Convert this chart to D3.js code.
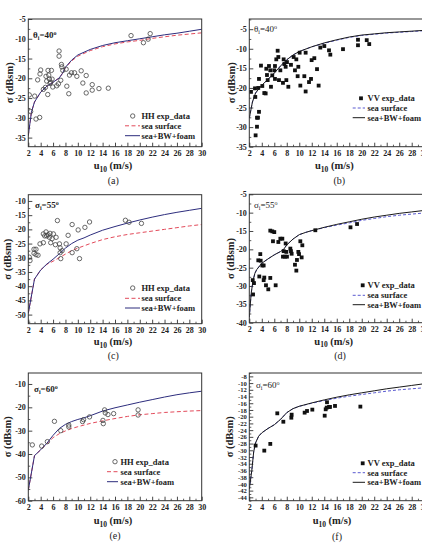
<!DOCTYPE html>
<html><head><meta charset="utf-8">
<script src="https://cdn.jsdelivr.net/npm/d3@7"></script>
<style>
body{margin:0;background:#fff;}
svg{display:block;}
text{font-family:"Liberation Serif","Times New Roman",serif;}
</style>
</head><body>
<svg id="chart" width="422" height="545"></svg>
<script>
// ---------- data ----------
const windTicks = [2,4,6,8,10,12,14,16,18,20,22,24,26,28,30];
const yTicksA = [-35,-30,-25,-20,-15,-10,-5];
const yTicksB = [-35,-30,-25,-20,-15,-10,-5];
const yTicksC = [-50,-45,-40,-35,-30,-25,-20,-15,-10];
const yTicksD = [-40,-35,-30,-25,-20,-15,-10,-5];
const yTicksE = [-60,-50,-40,-30,-20,-10];
const yTicksF = [-44,-42,-40,-38,-36,-34,-32,-30,-28,-26,-24,-22,-20,-18,-16,-14,-12,-10,-8];

const hhData40 = [[2.16,-24.2],[2.38,-28.4],[3.03,-24.5],[3.24,-30.3],[3.84,-29.9],[3.51,-20.4],[3.89,-18.9],[4.0,-17.9],[4.43,-22.8],[4.76,-22.3],[4.86,-19.5],[4.97,-20.7],[5.14,-24.1],[5.19,-18.0],[5.3,-19.2],[5.41,-20.2],[5.51,-21.3],[5.73,-18.0],[5.84,-20.2],[5.95,-22.2],[5.62,-21.0],[6.59,-21.9],[6.86,-21.4],[6.97,-13.1],[6.97,-14.4],[7.35,-16.5],[7.41,-17.1],[7.24,-20.5],[7.57,-18.0],[8.11,-17.7],[8.22,-22.0],[8.54,-23.9],[8.65,-19.2],[8.97,-18.6],[9.46,-18.6],[9.84,-19.5],[10.54,-18.1],[10.81,-21.2],[11.35,-19.3],[11.35,-23.7],[12.32,-21.6],[12.32,-23.0],[13.41,-22.6],[14.92,-22.5],[18.59,-9.2],[20.59,-11.0],[21.35,-10.1],[21.68,-8.7]];
const foam40HH = [[2,-34.5],[2.5,-28.6],[3,-26.0],[4,-23.5],[5,-22.0],[6,-21.0],[7,-19.9],[7.5,-18.8],[8,-17.2],[9,-15.4],[10,-14.1],[12,-12.7],[14,-11.7],[16,-11.0],[18,-10.5],[20,-10.0],[22,-9.5],[24,-9.0],[26,-8.6],[28,-8.1],[30,-7.6]];
const sea40HH = [[2,-34.5],[2.5,-28.6],[3,-26.0],[4,-23.5],[5,-22.0],[6,-21.0],[7,-19.9],[7.5,-18.8],[8,-17.3],[9,-15.6],[10,-14.4],[12,-13.0],[14,-12.0],[16,-11.3],[18,-10.8],[20,-10.4],[22,-9.9],[24,-9.5],[26,-9.1],[28,-8.8],[30,-8.5]];

const vvData40 = [[2.27,-21.0],[2.91,-20.1],[3.44,-20.0],[2.96,-22.3],[3.23,-27.6],[3.39,-27.6],[3.55,-26.1],[3.23,-29.9],[3.01,-32.1],[3.55,-17.7],[3.87,-14.3],[4.08,-19.5],[4.40,-21.3],[4.62,-21.4],[4.72,-15.1],[4.94,-18.0],[4.83,-16.7],[5.15,-14.4],[5.36,-15.5],[5.47,-19.7],[5.68,-16.8],[6.0,-15.5],[6.11,-14.4],[6.11,-17.7],[6.32,-12.7],[6.65,-12.1],[6.54,-10.5],[6.75,-18.0],[6.97,-15.5],[7.39,-18.7],[7.5,-12.7],[7.61,-13.9],[7.82,-14.6],[7.93,-18.0],[8.03,-13.4],[8.25,-19.7],[8.67,-14.1],[9.1,-12.1],[9.31,-15.5],[9.53,-12.7],[9.74,-17.0],[9.85,-14.6],[10.06,-11.0],[10.17,-19.4],[10.81,-17.0],[11.02,-20.9],[11.02,-11.0],[11.56,-18.5],[11.88,-17.7],[11.98,-12.9],[12.41,-12.4],[12.84,-15.2],[13.1,-19.4],[13.37,-9.7],[14.01,-9.3],[14.76,-10.4],[14.97,-11.5],[17.0,-10.1],[19.4,-7.7],[19.4,-9.1],[20.8,-7.8],[21.2,-8.8]];
const foam40VV = [[2,-27.7],[2.5,-23.6],[3,-21.3],[4,-19.3],[5,-17.8],[6,-16.2],[7,-14.4],[8,-12.8],[9,-11.6],[10,-10.7],[12,-9.5],[14,-8.5],[16,-7.7],[18,-7.0],[20,-6.5],[22,-6.2],[24,-5.9],[26,-5.7],[28,-5.5],[30,-5.3]];
const sea40VV = [[2,-27.7],[2.5,-23.6],[3,-21.3],[4,-19.3],[5,-17.8],[6,-16.2],[7,-14.4],[8,-12.8],[9,-11.6],[10,-10.7],[12,-9.5],[14,-8.6],[16,-7.8],[18,-7.1],[20,-6.6],[22,-6.3],[24,-6.0],[26,-5.8],[28,-5.6],[30,-5.4]];

const hhData55 = [[2.16,-29.8],[2.27,-31.0],[2.92,-27.0],[3.24,-27.0],[2.92,-28.4],[3.24,-28.9],[3.57,-29.1],[3.89,-25.1],[4.43,-24.7],[4.43,-21.6],[4.65,-22.3],[4.86,-20.9],[4.97,-22.3],[5.19,-21.9],[5.41,-22.8],[5.51,-21.4],[5.84,-23.3],[6.05,-21.6],[5.62,-24.7],[6.38,-25.4],[6.49,-22.8],[6.7,-16.9],[7.03,-25.1],[7.14,-28.2],[7.14,-26.5],[7.46,-27.5],[7.24,-30.3],[8.11,-25.1],[8.43,-22.1],[9.08,-18.3],[9.08,-28.2],[9.84,-26.8],[10.05,-20.2],[10.27,-30.3],[11.14,-19.3],[11.89,-17.4],[17.68,-16.8],[18.27,-17.5],[20.27,-17.9]];
const foam55HH = [[2,-49.5],[3,-37.5],[4,-34.3],[5,-32.2],[6,-30.5],[7,-28.6],[8,-26.6],[9,-25.0],[10,-23.8],[11,-23.0],[12,-22.0],[14,-20.3],[16,-19.0],[18,-17.8],[20,-16.7],[22,-15.7],[24,-14.8],[26,-14.0],[28,-13.3],[30,-12.6]];
const sea55HH = [[2,-49.5],[3,-37.5],[4,-34.3],[5,-32.3],[6,-31.2],[7,-30.0],[8,-28.7],[9,-27.5],[10,-26.6],[12,-25.0],[14,-23.6],[16,-22.6],[18,-21.8],[20,-21.2],[22,-20.6],[24,-20.0],[26,-19.4],[28,-18.8],[30,-18.3]];

const vvData55 = [[2.6,-32.3],[2.55,-28.4],[2.75,-29.2],[3.6,-27.4],[3.76,-21.3],[3.82,-23.1],[3.44,-23.0],[4.3,-24.4],[4.08,-24.4],[4.4,-27.7],[4.3,-28.4],[4.67,-29.8],[5.04,-30.9],[5.36,-27.8],[5.36,-14.9],[5.68,-15.1],[6.0,-15.3],[5.79,-17.8],[6.22,-29.8],[6.65,-18.0],[6.97,-17.1],[7.29,-17.1],[7.5,-20.5],[7.82,-18.4],[7.39,-22.0],[7.71,-22.0],[8.03,-22.0],[7.93,-20.7],[8.57,-19.8],[8.67,-20.5],[8.78,-21.2],[9.31,-24.2],[9.53,-25.8],[9.63,-22.9],[9.85,-20.7],[9.96,-21.3],[10.17,-17.8],[10.49,-18.9],[10.38,-22.2],[12.57,-14.8],[18.2,-14.0],[19.25,-13.1]];
const foam55VV = [[2,-38.5],[2.3,-32.0],[2.6,-28.5],[2.9,-26.5],[3.2,-25.5],[4,-23.8],[5,-22.6],[6,-21.5],[7,-20.6],[7.5,-20.0],[8,-18.8],[9,-17.2],[10,-16.0],[11,-15.4],[12,-14.9],[14,-14.0],[16,-13.2],[18,-12.5],[20,-11.8],[22,-11.2],[24,-10.7],[26,-10.2],[28,-9.8],[30,-9.4]];
const sea55VV = [[2,-38.5],[2.3,-32.0],[2.6,-28.5],[2.9,-26.5],[3.2,-25.5],[4,-23.8],[5,-22.6],[6,-21.5],[7,-20.6],[7.5,-20.0],[8,-18.8],[9,-17.2],[10,-16.0],[11,-15.4],[12,-14.9],[14,-14.1],[16,-13.4],[18,-12.8],[20,-12.1],[22,-11.6],[24,-11.1],[26,-10.7],[28,-10.4],[30,-10.1]];

const hhData60 = [[2.65,-36.1],[4.16,-36.6],[5.08,-34.7],[6.22,-26.0],[7.24,-30.0],[8.54,-27.6],[8.54,-28.4],[10.76,-26.1],[10.92,-25.3],[11.89,-24.1],[14.05,-25.6],[14.11,-27.0],[14.32,-21.1],[14.43,-22.4],[14.86,-23.1],[15.78,-22.7],[19.73,-21.1],[19.73,-23.3]];
const foam60HH = [[2,-55.5],[3,-40.7],[4,-38.2],[5,-35.4],[6,-32.0],[7,-29.1],[8,-27.3],[9,-26.1],[10,-25.2],[11,-24.5],[12,-23.6],[14,-21.6],[16,-20.2],[18,-19.0],[20,-17.8],[22,-16.7],[24,-15.6],[26,-14.6],[28,-13.8],[30,-13.1]];
const sea60HH = [[2,-55.5],[3,-40.7],[4,-38.2],[5,-35.6],[6,-33.0],[7,-31.3],[8,-30.1],[9,-29.1],[10,-28.3],[12,-26.9],[14,-25.8],[16,-24.8],[18,-23.9],[20,-23.2],[22,-22.7],[24,-22.2],[26,-21.9],[28,-21.6],[30,-21.4]];

const vvData60 = [[3.01,-28.6],[4.4,-30.1],[5.36,-28.1],[6.48,-19.0],[7.45,-21.5],[8.73,-20.3],[8.78,-19.4],[10.86,-18.8],[11.24,-18.3],[12.09,-17.9],[14.07,-19.7],[14.23,-17.8],[14.44,-15.7],[14.39,-17.3],[14.76,-17.1],[14.92,-17.1],[15.72,-16.8],[19.78,-17.0]];
const foam60VV = [[2,-41.5],[2.4,-36.0],[2.7,-30.5],[3,-27.8],[3.5,-25.8],[4,-24.8],[5,-23.5],[6,-22.4],[7,-20.8],[7.5,-19.8],[8,-18.8],[9,-17.6],[10,-16.9],[12,-15.9],[14,-15.0],[16,-14.2],[18,-13.5],[20,-12.9],[22,-12.3],[24,-11.7],[26,-11.2],[28,-10.7],[30,-10.2]];
const sea60VV = [[2,-41.5],[2.4,-36.0],[2.7,-30.5],[3,-27.8],[3.5,-25.8],[4,-24.8],[5,-23.5],[6,-22.4],[7,-20.8],[7.5,-19.8],[8,-18.8],[9,-17.6],[10,-16.9],[12,-16.0],[14,-15.2],[16,-14.5],[18,-13.9],[20,-13.4],[22,-12.9],[24,-12.4],[26,-12.0],[28,-11.7],[30,-11.4]];

const legendHH = ["HH exp_data","sea surface","sea+BW+foam"];
const legendVV = ["VV exp_data","sea surface","sea+BW+foam"];
const captions = ["(a)","(b)","(c)","(d)","(e)","(f)"];

// ---------- layout ----------
const L = {x0:28.3, x1:201.7}, R = {x0:249.3, x1:424.2};
const panels = [
 {col:L, y0:19, y1:146.7, ydom:[-37.3,-5], yt:yTicksA, ym:2.5, tf:8, pts:hhData40, foam:foam40HH, sea:sea40HH, pol:"HH",
  sym:"θ", ang:"40", ann:[33,38], leg:{mx:132.7,tx:141.5,lx0:125,lx1:140,ys:[116,125.8,135.7]}, cap:[113.3,184], xt:[113,169], yl:9.5},
 {col:R, y0:19, y1:146.7, ydom:[-35,-2.4], yt:yTicksB, ym:2.5, tf:8, pts:vvData40, foam:foam40VV, sea:sea40VV, pol:"VV",
  sym:"θ", ang:"40", ann:[254,32], leg:{mx:361,tx:367.5,lx0:352.7,lx1:365,ys:[98.3,108,117.7]}, cap:[339.3,184], xt:[334.3,169], yl:231.5},
 {col:L, y0:194.7, y1:323.7, ydom:[-53.2,-7.8], yt:yTicksC, ym:2.5, tf:8, pts:hhData55, foam:foam55HH, sea:sea55HH, pol:"HH",
  sym:"σ", ang:"55", ann:[35,208], leg:{mx:132.7,tx:141.5,lx0:125,lx1:140,ys:[288,298.3,308]}, cap:[113.3,359], xt:[113,345], yl:7.8},
 {col:R, y0:194.3, y1:322.7, ydom:[-40,-5], yt:yTicksD, ym:2.5, tf:8, pts:vvData55, foam:foam55VV, sea:sea55VV, pol:"VV",
  sym:"σ", ang:"55", ann:[254,208], leg:{mx:362.7,tx:367.5,lx0:352.7,lx1:365,ys:[285.3,295.3,304.7]}, cap:[340,358.5], xt:[333.7,344.5], yl:230.5},
 {col:L, y0:373, y1:500.7, ydom:[-60,-5.3], yt:yTicksE, ym:5, tf:8, pts:hhData60, foam:foam60HH, sea:sea60HH, pol:"HH",
  sym:"σ", ang:"60", ann:[34,392], leg:{mx:115,tx:120.5,lx0:107,lx1:118,ys:[461.7,471.7,481.7]}, cap:[115,538.5], xt:[113,524], yl:7.2},
 {col:R, y0:373, y1:500.7, ydom:[-45,-7], yt:yTicksF, ym:1, tf:6.6, pts:vvData60, foam:foam60VV, sea:sea60VV, pol:"VV",
  sym:"σ", ang:"60", ann:[256,388], leg:{mx:362.7,tx:367.5,lx0:352.7,lx1:365,ys:[463.3,472.7,482.3]}, cap:[337,539.5], xt:[332,524], yl:229.5},
];

const svg = d3.select("#chart");
const FONT = "Liberation Serif, Times New Roman, serif";

panels.forEach((p,i) => {
  const hh = p.pol === "HH";
  const foamColor = hh ? "#2d2d7d" : "#1a1a1a";
  const seaColor = hh ? "#e24a5a" : "#5a5ad0";
  const x = d3.scaleLinear().domain([2,30]).range([p.col.x0, p.col.x1]);
  const y = d3.scaleLinear().domain(p.ydom).range([p.y1, p.y0]);
  const g = svg.append("g");
  const clipId = "clip" + i;
  g.append("clipPath").attr("id", clipId).append("rect")
    .attr("x", p.col.x0).attr("y", p.y0).attr("width", p.col.x1 - p.col.x0).attr("height", p.y1 - p.y0);

  // minor ticks
  const xMinor = d3.range(3, 30, 2);
  const yMinor = d3.range(Math.ceil(p.ydom[0]/p.ym)*p.ym, p.ydom[1]+1e-9, p.ym).filter(v => !p.yt.includes(v));
  const mx = g.append("g").attr("transform", `translate(0,${p.y1})`)
    .call(d3.axisBottom(x).tickValues(xMinor).tickSize(-2).tickFormat(""));
  const my = g.append("g").attr("transform", `translate(${p.col.x0},0)`)
    .call(d3.axisLeft(y).tickValues(yMinor).tickSize(-2).tickFormat(""));
  [mx,my].forEach(a => { a.select(".domain").remove(); a.selectAll("line").attr("stroke","#333").attr("stroke-width",0.8); });

  // major axes
  const ax = g.append("g").attr("transform", `translate(0,${p.y1})`)
    .call(d3.axisBottom(x).tickValues(windTicks).tickSize(-4).tickPadding(3.5).tickFormat(d => String(d)));
  const ay = g.append("g").attr("transform", `translate(${p.col.x0},0)`)
    .call(d3.axisLeft(y).tickValues(p.yt).tickSize(-4).tickPadding(2.5).tickFormat(d => String(d)));
  ax.selectAll("text").attr("font-size",8);
  ay.selectAll("text").attr("font-size",p.tf);
  [ax,ay].forEach(a => {
    a.select(".domain").remove();
    a.selectAll("line").attr("stroke","#333").attr("stroke-width",0.9);
    a.selectAll("text").attr("font-family",FONT).attr("font-weight","bold").attr("fill","#222");
  });

  // curves
  const line = d3.line().x(d => x(d[0])).y(d => y(d[1]));
  const cg = g.append("g").attr("clip-path", `url(#${clipId})`);
  cg.append("path").datum(p.sea).attr("d", line).attr("fill","none")
    .attr("stroke", seaColor).attr("stroke-width", 1).attr("stroke-dasharray", hh ? "4,2.5" : "3,2");
  cg.append("path").datum(p.foam).attr("d", line).attr("fill","none")
    .attr("stroke", foamColor).attr("stroke-width", 1);

  // points
  if (hh) {
    cg.selectAll("circle.pt").data(p.pts).join("circle").attr("class","pt")
      .attr("cx", d => x(d[0])).attr("cy", d => y(d[1])).attr("r", 2.2)
      .attr("fill","none").attr("stroke","#444").attr("stroke-width",0.8);
  } else {
    cg.selectAll("rect.pt").data(p.pts).join("rect").attr("class","pt")
      .attr("x", d => x(d[0]) - 1.9).attr("y", d => y(d[1]) - 1.9).attr("width",3.8).attr("height",3.8)
      .attr("fill","#111");
  }

  // frame
  g.append("rect").attr("x", p.col.x0).attr("y", p.y0)
    .attr("width", p.col.x1 - p.col.x0).attr("height", p.y1 - p.y0)
    .attr("fill","none").attr("stroke","#333").attr("stroke-width",1);

  // annotation
  const an = g.append("text").attr("x", p.ann[0]).attr("y", p.ann[1])
    .attr("font-family",FONT).attr("font-size", 9).attr("fill","#222")
    .attr("font-weight", hh ? "bold" : "normal");
  an.append("tspan").text(p.sym);
  an.append("tspan").attr("dy", 2).attr("font-size", 6).text("i");
  an.append("tspan").attr("dy", -2).text("=" + p.ang);
  an.append("tspan").attr("dy", -3.5).attr("font-size", 6).text("o");

  // legend
  const labels = hh ? legendHH : legendVV;
  const lg = g.append("g");
  if (hh) {
    lg.append("circle").attr("cx", p.leg.mx).attr("cy", p.leg.ys[0]).attr("r", 2.2)
      .attr("fill","none").attr("stroke","#444").attr("stroke-width",0.8);
  } else {
    lg.append("rect").attr("x", p.leg.mx - 1.9).attr("y", p.leg.ys[0] - 1.9).attr("width",3.8).attr("height",3.8).attr("fill","#111");
  }
  lg.append("line").attr("x1", p.leg.lx0).attr("x2", p.leg.lx1).attr("y1", p.leg.ys[1]).attr("y2", p.leg.ys[1])
    .attr("stroke", seaColor).attr("stroke-width",1).attr("stroke-dasharray", hh ? "4,2.5" : "3,2");
  lg.append("line").attr("x1", p.leg.lx0).attr("x2", p.leg.lx1).attr("y1", p.leg.ys[2]).attr("y2", p.leg.ys[2])
    .attr("stroke", foamColor).attr("stroke-width",1);
  labels.forEach((t,k) => {
    lg.append("text").attr("x", p.leg.tx).attr("y", p.leg.ys[k]).attr("dy","0.33em")
      .attr("font-family",FONT).attr("font-weight","bold").attr("font-size",8.5).attr("fill","#222").text(t);
  });

  // axis titles
  const xtl = g.append("text").attr("x", p.xt[0]).attr("y", p.xt[1]).attr("text-anchor","middle")
    .attr("font-family",FONT).attr("font-weight","bold").attr("font-size",10.5).attr("fill","#222");
  xtl.append("tspan").text("u");
  xtl.append("tspan").attr("dy",2.5).attr("font-size",7.5).text("10");
  xtl.append("tspan").attr("dy",-2.5).text(" (m/s)");

  g.append("text").attr("transform", `translate(${p.yl},${(p.y0+p.y1)/2}) rotate(-90)`)
    .attr("text-anchor","middle").attr("dy","0.35em")
    .attr("font-family",FONT).attr("font-weight","bold").attr("font-size",10.5).attr("fill","#222")
    .text("σ (dBsm)");

  // caption
  g.append("text").attr("x", p.cap[0]).attr("y", p.cap[1]).attr("text-anchor","middle")
    .attr("font-family",FONT).attr("font-size",10).attr("fill","#222").text(captions[i]);
});
</script>
</body></html>
